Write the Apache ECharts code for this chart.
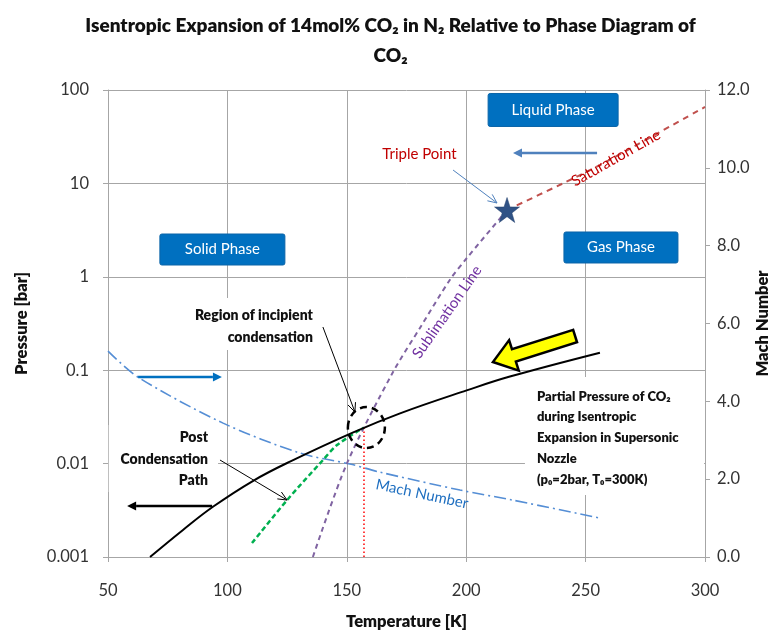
<!DOCTYPE html>
<html><head><meta charset="utf-8">
<script src="https://cdn.jsdelivr.net/npm/echarts@6/dist/echarts.min.js"></script>
<style>html,body{margin:0;padding:0;background:#fff}#c{width:781px;height:631px}</style>
</head><body><div id="c"></div>
<script>
// ---- data ----
const xTicks = [50, 100, 150, 200, 250, 300];
const pressureTickLabels = ['0.001', '0.01', '0.1', '1', '10', '100'];
const machTicks = [0, 2, 4, 6, 8, 10, 12];

const partialT = [67.6, 81.4, 94.1, 110.8, 126.2, 152.7, 172.3, 200.2, 218.3, 256.0];
const partialP = [0.001, 0.00195, 0.00347, 0.00655, 0.0105, 0.0216, 0.0345, 0.0608, 0.0855, 0.154];

const machT = [50, 62.6, 98.2, 130.4, 151.3, 163.9, 197.4, 219.6, 256.0];
const machM = [5.29, 4.62, 3.44, 2.67, 2.39, 2.18, 1.72, 1.46, 1.00];

const sublimationT = [135.8, 150.1, 169.3, 180.7, 193.2, 200.3, 215.4, 217.1];
const sublimationP = [0.001, 0.0101, 0.095, 0.285, 0.93, 1.59, 4.6, 5.19];

const saturationT = [217.1, 240.5, 256.0, 269.8, 300.0];
const saturationP = [5.19, 10.0, 15.7, 24.5, 65.8];

const postCondT = [110.3, 125.0, 140.0, 145.9, 156.8];
const postCondP = [0.00141, 0.00407, 0.0109, 0.0158, 0.0241];

const onsetT = [157.2, 157.2];
const onsetP = [0.0243, 0.001];

const triplePoint = [217.1, 5.19];

const FONT = 'Lato';
const BOLD = '800';
const zip = (a, b) => a.map((v, i) => [v, b[i]]);

const chart = echarts.init(document.getElementById('c'), null, {renderer: 'canvas'});
const gridColor = '#A6A6A6';
const starPath = 'path://M50,0 L61.8,35.1 L98.9,35.1 L69.1,57.3 L80.2,92.7 L50,71 L19.8,92.7 L30.9,57.3 L1.1,35.1 L38.2,35.1 Z';
const axisName = {fontSize: 16.5, fontWeight: BOLD, color: '#111', fontFamily: FONT};

chart.setOption({
  animation: false,
  backgroundColor: '#fff',
  textStyle: {fontFamily: FONT},
  title: {
    text: 'Isentropic Expansion of 14mol% CO\u2082 in N\u2082 Relative to Phase Diagram of\nCO\u2082',
    left: 'center', top: 6,
    textStyle: {fontFamily: FONT, fontSize: 19, fontWeight: BOLD, color: '#111', lineHeight: 30}
  },
  grid: {left: 108, right: 76, top: 90, bottom: 74, containLabel: false, outerBoundsMode: 'none'},
  xAxis: {
    type: 'value', min: xTicks[0], max: xTicks[xTicks.length - 1], interval: 50,
    axisLine: {show: true, lineStyle: {color: gridColor}},
    axisTick: {show: true, length: 5, lineStyle: {color: gridColor}},
    axisLabel: {fontSize: 16.5, color: '#333', margin: 25, fontFamily: FONT},
    splitLine: {show: true, lineStyle: {color: gridColor}},
    name: 'Temperature [K]', nameLocation: 'middle', nameGap: 56, nameMoveOverlap: false,
    nameTextStyle: axisName
  },
  yAxis: [{
    type: 'log', logBase: 10, min: 0.001, max: 100,
    axisLine: {show: true, lineStyle: {color: gridColor}},
    axisTick: {show: true, length: 5, lineStyle: {color: gridColor}},
    axisLabel: {fontSize: 16.5, color: '#333', margin: 19, fontFamily: FONT,
      formatter: v => pressureTickLabels[Math.round(Math.log10(v)) + 3]},
    splitLine: {show: true, lineStyle: {color: gridColor}},
    name: 'Pressure [bar]', nameLocation: 'middle', nameGap: 78, nameRotate: 90, nameMoveOverlap: false,
    nameTextStyle: axisName
  }, {
    type: 'value', position: 'right', min: machTicks[0], max: machTicks[machTicks.length - 1], interval: 2,
    axisLine: {show: true, lineStyle: {color: gridColor}},
    axisTick: {show: true, length: 5, lineStyle: {color: gridColor}},
    axisLabel: {fontSize: 16.5, color: '#333', margin: 12, fontFamily: FONT, formatter: v => v.toFixed(1)},
    splitLine: {show: false},
    name: 'Mach Number', nameLocation: 'middle', nameGap: 49, nameRotate: 90, nameMoveOverlap: false,
    nameTextStyle: axisName
  }],
  series: [
    {name: 'Mach', type: 'line', yAxisIndex: 1, data: zip(machT, machM), smooth: 0.3, showSymbol: false,
      lineStyle: {color: '#558ED5', width: 1.6, type: [12, 4, 2, 4]}, z: 3},
    {name: 'Sublimation', type: 'line', data: zip(sublimationT, sublimationP), smooth: 0.3, showSymbol: false,
      lineStyle: {color: '#8064A2', width: 2, type: [5, 4]}, z: 3},
    {name: 'Saturation', type: 'line', data: zip(saturationT, saturationP), smooth: 0.3, showSymbol: false,
      lineStyle: {color: '#C0504D', width: 2, type: [6, 5]}, z: 3},
    {name: 'Onset', type: 'line', data: zip(onsetT, onsetP), showSymbol: false,
      lineStyle: {color: '#FF0000', width: 1.5, type: [1.5, 2.5]}, z: 3},
    {name: 'PostCond', type: 'line', data: zip(postCondT, postCondP), smooth: 0.3, showSymbol: false,
      lineStyle: {color: '#00B050', width: 2.5, type: [5, 3]}, z: 4},
    {name: 'Partial', type: 'line', data: zip(partialT, partialP), smooth: 0.4, showSymbol: false,
      lineStyle: {color: '#000', width: 2}, z: 5},
    {name: 'Triple', type: 'scatter', data: [triplePoint], symbol: starPath, symbolSize: 25,
      itemStyle: {color: '#2F5285', borderColor: '#26436E', borderWidth: 0.5, opacity: 1}, z: 6}
  ]
});

// ---- annotations (data coordinates) ----
const phaseBoxes = [
  {text: 'Liquid Phase', at: [236.4, 61.1], w: 130, h: 33},
  {text: 'Solid Phase', at: [97.9, 1.96], w: 125, h: 31},
  {text: 'Gas Phase', at: [264.8, 2.06], w: 114, h: 31}
];
const whiteBoxes = [
  [[224.6, 0.0845], [299.6, 0.00461]],
  [[83.5, 0.593], [137.9, 0.1644]],
  [[50.3, 0.0259], [96.1, 0.00497]]
];
const labels = [
  {text: 'Triple Point', at: [180.4, 20.6], color: '#C00000', size: 15, rot: 0},
  {text: 'Saturation Line', at: [262.7, 18.7], color: '#C00000', size: 15, rot: 29.5},
  {text: 'Sublimation Line', at: [192.0, 0.42], color: '#7030A0', size: 15, rot: 55},
  {text: 'Mach Number', at: [181.5, 0.00472], color: '#1F6FC0', size: 15, rot: -12},
  {text: 'Region of incipient\ncondensation', at: [135.8, 0.297], color: '#111', size: 14, bold: true, align: 'right', lh: 22},
  {text: 'Post\nCondensation\nPath', at: [91.9, 0.0112], color: '#111', size: 14, bold: true, align: 'right', lh: 21.5},
  {text: 'Partial Pressure of CO\u2082\nduring Isentropic\nExpansion in Supersonic\nNozzle\n(p\u2080=2bar, T\u2080=300K)', at: [229.6, 0.0188], color: '#111', size: 13, bold: true, align: 'left', lh: 20.8}
];
const arrows = [
  {from: [254.8, 21.2], to: [219.6, 21.2], color: '#4F81BD', width: 2.5, head: [9, 4.5], open: false},
  {from: [62.6, 0.0845], to: [97.7, 0.0845], color: '#0070C0', width: 2.5, head: [9, 4.5], open: false},
  {from: [93.6, 0.00352], to: [58.0, 0.00352], color: '#000', width: 2.5, head: [9, 4.5], open: false},
  {from: [194.5, 13.9], to: [212.9, 6.17], color: '#4F81BD', width: 1, head: [9, 4], open: true},
  {from: [140.0, 0.290], to: [153.4, 0.0357], color: '#000', width: 1, head: [9, 4], open: true},
  {from: [96.9, 0.01092], to: [125.0, 0.00407], color: '#000', width: 1, head: [9, 4], open: true}
];
const bigArrow = {from: [245.6, 0.232], to: [211.2, 0.1224]};
const condensationRing = {at: [158.2, 0.0243], rx: 18.5, ry: 20.5};

function px(v) { return chart.convertToPixel({xAxisIndex: 0, yAxisIndex: 0}, v); }

function arrowEls(a) {
  const p1 = px(a.from), p2 = px(a.to);
  const dx = p2[0] - p1[0], dy = p2[1] - p1[1], L = Math.hypot(dx, dy);
  const ux = dx / L, uy = dy / L, nx = -uy, ny = ux;
  const [hl, hw] = a.head;
  const b = [p2[0] - ux * hl, p2[1] - uy * hl];
  const l = [b[0] + nx * hw, b[1] + ny * hw], r = [b[0] - nx * hw, b[1] - ny * hw];
  if (a.open) {
    return [
      {type: 'polyline', z: 50, shape: {points: [p1, p2]}, style: {stroke: a.color, lineWidth: a.width, fill: null}},
      {type: 'polyline', z: 50, shape: {points: [l, p2, r]}, style: {stroke: a.color, lineWidth: a.width, fill: null}}
    ];
  }
  return [
    {type: 'line', z: 50, shape: {x1: p1[0], y1: p1[1], x2: b[0], y2: b[1]}, style: {stroke: a.color, lineWidth: a.width}},
    {type: 'polygon', z: 50, shape: {points: [p2, l, r]}, style: {fill: a.color}}
  ];
}

function blockArrow(a) {
  const t = px(a.from), h = px(a.to);
  const dx = h[0] - t[0], dy = h[1] - t[1], L = Math.hypot(dx, dy);
  const ux = dx / L, uy = dy / L, nx = -uy, ny = ux;
  const sw = 6.5, hw = 16, hl = 22;
  const n = [h[0] - ux * hl, h[1] - uy * hl];
  const P = (p, k) => [p[0] + nx * k, p[1] + ny * k];
  return {type: 'polygon', z: 55, shape: {points: [P(t, sw), P(n, sw), P(n, hw), h, P(n, -hw), P(n, -sw), P(t, -sw)]},
    style: {fill: '#FFFF00', stroke: '#000', lineWidth: 2.5, lineJoin: 'miter'}};
}

const g = [];
whiteBoxes.forEach(b => {
  const a = px(b[0]), c = px(b[1]);
  g.push({type: 'rect', z: 20, shape: {x: Math.min(a[0], c[0]), y: Math.min(a[1], c[1]), width: Math.abs(c[0] - a[0]), height: Math.abs(c[1] - a[1])},
    style: {fill: '#fff'}});
});
phaseBoxes.forEach(b => {
  const c = px(b.at);
  g.push({type: 'rect', z: 30, shape: {x: c[0] - b.w / 2, y: c[1] - b.h / 2, width: b.w, height: b.h, r: 2},
    style: {fill: '#0070C0', stroke: '#0A64A8', lineWidth: 1}});
  g.push({type: 'text', z: 31, x: c[0], y: c[1], style: {text: b.text, fill: '#fff', font: '15px ' + FONT, textAlign: 'center', textVerticalAlign: 'middle'}});
});
labels.forEach(l => {
  const c = px(l.at);
  g.push({type: 'text', z: 40, x: c[0], y: c[1], rotation: (l.rot || 0) * Math.PI / 180, originX: 0, originY: 0,
    style: {text: l.text, fill: l.color, font: (l.bold ? BOLD + ' ' : '') + l.size + 'px ' + FONT,
      textAlign: l.align || 'center', textVerticalAlign: 'middle', lineHeight: l.lh || l.size * 1.3}});
});
arrows.forEach(a => arrowEls(a).forEach(e => g.push(e)));
g.push(blockArrow(bigArrow));
const rc = px(condensationRing.at);
g.push({type: 'ellipse', z: 45, shape: {cx: rc[0], cy: rc[1], rx: condensationRing.rx, ry: condensationRing.ry},
  style: {fill: null, stroke: '#000', lineWidth: 2.5, lineDash: [7, 5]}});

chart.setOption({graphic: {elements: g}});
</script>
</body></html>
